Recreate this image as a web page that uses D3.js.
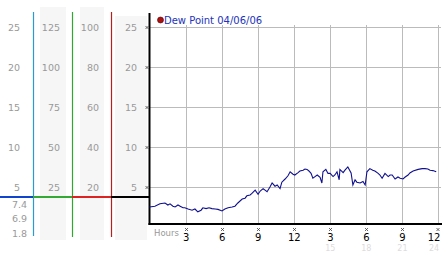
<!DOCTYPE html>
<html>
<head>
<meta charset="utf-8">
<script src="https://cdn.jsdelivr.net/npm/d3@7"></script>
<style>
  body { margin: 0; background: #fff; }
  svg { display: block; }
  text { font-family: "DejaVu Sans", Verdana, sans-serif; }
</style>
</head>
<body>
<div id="chart"></div>
<script>
var width = 442, height = 253;

// data
var hours = [0.0, 0.45, 0.87, 1.29, 1.53, 1.71, 1.95, 2.13, 2.37, 2.55,
  2.79, 2.94, 3.21, 3.54, 3.78, 4.02, 4.29, 4.44, 4.71, 4.95,
  5.19, 5.46, 5.70, 6.03, 6.27, 6.54, 6.87, 7.11, 7.35, 7.71,
  7.95, 8.10, 8.37, 8.52, 8.79, 9.03, 9.21, 9.45, 9.78, 10.02,
  10.20, 10.44, 10.62, 10.86, 11.01, 11.28, 11.52, 11.70, 11.94, 12.09,
  12.36, 12.51, 12.78, 12.93, 13.11, 13.26, 13.44, 13.59, 13.77, 13.95,
  14.19, 14.34, 14.43, 14.67, 14.85, 15.03, 15.27, 15.42, 15.60, 15.78,
  15.84, 16.11, 16.26, 16.50, 16.77, 16.92, 17.10, 17.25, 17.52, 17.76,
  17.94, 18.09, 18.33, 18.57, 18.75, 19.02, 19.17, 19.35, 19.59, 19.86,
  20.01, 20.19, 20.43, 20.67, 20.85, 21.09, 21.27, 21.51, 21.66, 21.93,
  22.35, 22.68, 22.92, 23.16, 23.34, 23.58, 23.85];
var dewPoint = [2.5, 2.6, 2.9, 3.0, 2.75, 2.9, 2.6, 2.5, 2.75, 2.6,
  2.4, 2.4, 2.25, 2.1, 2.25, 1.9, 2.1, 2.4, 2.3, 2.4,
  2.3, 2.25, 2.2, 2.0, 2.25, 2.4, 2.5, 2.6, 3.0, 3.5,
  3.6, 3.9, 4.0, 4.2, 4.6, 4.1, 4.5, 4.8, 4.4, 5.0,
  5.5, 5.1, 5.25, 4.8, 5.6, 6.0, 6.4, 6.9, 6.6, 6.5,
  6.8, 7.0, 7.1, 7.25, 7.2, 7.0, 6.7, 6.1, 6.3, 6.5,
  6.2, 5.5, 6.9, 7.2, 6.7, 6.7, 6.3, 6.5, 6.9, 5.9,
  7.2, 6.8, 7.1, 7.5, 6.75, 5.25, 5.9, 5.6, 5.5, 5.7,
  5.25, 6.9, 7.3, 7.1, 7.0, 6.7, 6.5, 6.1, 6.7, 6.3,
  6.5, 6.5, 6.0, 6.25, 6.1, 6.0, 6.25, 6.5, 6.75, 7.0,
  7.2, 7.3, 7.3, 7.25, 7.1, 7.05, 6.9];

var gridValues = [25, 20, 15, 10, 5];
var col1Labels = ["25", "20", "15", "10", "5"];
var col2Labels = ["125", "100", "75", "50", "25"];
var col3Labels = ["100", "80", "60", "40", "20"];
var col4Labels = ["25", "20", "15", "10", "5"];
var lowLabels = ["7.4", "6.9", "1.8"];
var markerValue = 3.75;

var tickHours = [3, 6, 9, 12, 15, 18, 21, 24];
var tickLabels = ["3", "6", "9", "12", "3", "6", "9", "12"];
var faintHours = [15, 18, 21, 24];
var faintLabels = ["15", "18", "21", "24"];
var title = "Dew Point 04/06/06";

var plotLeft = 149.5, plotRight = 438, plotBottom = 224;

var x = d3.scaleLinear().domain([0, 24]).range([plotLeft, plotRight]);
var y = d3.scaleLinear().domain([5, 25]).range([187, 27]);

var svg = d3.select("#chart").append("svg")
    .attr("width", width)
    .attr("height", height);

// shaded column backgrounds
var shades = [{x: 40, w: 26, top: 7}, {x: 80, w: 24, top: 7}, {x: 115, w: 32, top: 16}];
svg.selectAll(".shade")
    .data(shades)
  .enter().append("rect")
    .attr("x", d => d.x)
    .attr("y", d => d.top)
    .attr("width", d => d.w)
    .attr("height", d => 240 - d.top)
    .attr("fill", "#f6f6f6");

// column labels
var cols = [
  {labels: col1Labels, right: 20},
  {labels: col2Labels, right: 60},
  {labels: col3Labels, right: 99},
  {labels: col4Labels, right: 137}
];
cols.forEach(function(c) {
  svg.selectAll(null)
      .data(c.labels)
    .enter().append("text")
      .attr("x", c.right)
      .attr("y", (d, i) => y(gridValues[i]) + 3.5)
      .attr("text-anchor", "end")
      .attr("font-size", 9.5)
      .attr("fill", "#999")
      .text(d => d);
});

svg.selectAll(".low")
    .data(lowLabels)
  .enter().append("text")
    .attr("x", 27)
    .attr("y", (d, i) => 208 + i * 14.3)
    .attr("text-anchor", "end")
    .attr("font-size", 9.5)
    .attr("fill", "#999")
    .text(d => d);

// vertical colored separators
var seps = [{x: 33, c: "#2a9ad0", b: 236}, {x: 72, c: "#2fa82f", b: 237}, {x: 111, c: "#b42020", b: 237}];
svg.selectAll(".sep")
    .data(seps)
  .enter().append("line")
    .attr("x1", d => d.x + 0.5).attr("x2", d => d.x + 0.5)
    .attr("y1", 12).attr("y2", d => d.b)
    .attr("stroke", d => d.c)
    .attr("stroke-width", 1.2);

// horizontal colored marker line
var segs = [{a: 0, b: 33, c: "#1144cc"}, {a: 33, b: 72, c: "#33aa33"}, {a: 72, b: 111, c: "#dd2222"}, {a: 111, b: 149, c: "#000"}];
svg.selectAll(".seg")
    .data(segs)
  .enter().append("line")
    .attr("x1", d => d.a).attr("x2", d => d.b)
    .attr("y1", y(markerValue)).attr("y2", y(markerValue))
    .attr("stroke", d => d.c)
    .attr("stroke-width", 2);

// grid
svg.selectAll(".hgrid")
    .data(gridValues)
  .enter().append("line")
    .attr("x1", plotLeft).attr("x2", 441)
    .attr("y1", d => Math.round(y(d)) + 0.5).attr("y2", d => Math.round(y(d)) + 0.5)
    .attr("stroke", "#bbb");

svg.selectAll(".vgrid")
    .data(tickHours)
  .enter().append("line")
    .attr("x1", d => Math.round(x(d)) + 0.5).attr("x2", d => Math.round(x(d)) + 0.5)
    .attr("y1", 25).attr("y2", plotBottom)
    .attr("stroke", "#bbb");

// axes
svg.append("line")
    .attr("x1", 149.5).attr("x2", 149.5)
    .attr("y1", 13).attr("y2", plotBottom + 1)
    .attr("stroke", "#000").attr("stroke-width", 2);
svg.append("line")
    .attr("x1", 148.5).attr("x2", 442)
    .attr("y1", plotBottom).attr("y2", plotBottom)
    .attr("stroke", "#000").attr("stroke-width", 2);

// little cross tick marks
var cross = "M-1.5,-1.5L1.5,1.5M1.5,-1.5L-1.5,1.5";
svg.selectAll(".ytick")
    .data(gridValues)
  .enter().append("path")
    .attr("d", cross)
    .attr("transform", d => "translate(147," + (Math.round(y(d)) + 0.5) + ")")
    .attr("stroke", "#444").attr("stroke-width", 0.8).attr("fill", "none");
svg.selectAll(".xtick")
    .data(tickHours)
  .enter().append("path")
    .attr("d", cross)
    .attr("transform", d => "translate(" + Math.min(Math.round(x(d)) + 0.5, 438) + ",229.5)")
    .attr("stroke", "#444").attr("stroke-width", 0.8).attr("fill", "none");

// x labels
svg.append("text")
    .attr("x", 154).attr("y", 235.5)
    .attr("font-size", 8.5)
    .attr("fill", "#999")
    .text("Hours");

function labelX(h) { return Math.min(x(h) + 0.5, 434); }

svg.selectAll(".xlab")
    .data(tickHours)
  .enter().append("text")
    .attr("x", d => labelX(d))
    .attr("y", 240.5)
    .attr("text-anchor", "middle")
    .attr("font-size", 10)
    .attr("fill", "#000")
    .text((d, i) => tickLabels[i]);

svg.selectAll(".flab")
    .data(faintHours)
  .enter().append("text")
    .attr("x", d => labelX(d))
    .attr("y", 250.5)
    .attr("text-anchor", "middle")
    .attr("font-size", 8)
    .attr("fill", "#dcdcdc")
    .text((d, i) => faintLabels[i]);

// data line
var line = d3.line()
    .x(d => x(d[0]))
    .y(d => y(d[1]));
svg.append("path")
    .datum(hours.map((h, i) => [h, dewPoint[i]]))
    .attr("d", line)
    .attr("fill", "none")
    .attr("stroke", "#10108f")
    .attr("stroke-width", 1.1);

// legend
svg.append("circle")
    .attr("cx", 160.5).attr("cy", 20)
    .attr("r", 3)
    .attr("fill", "#aa1111")
    .attr("stroke", "#550000").attr("stroke-width", 0.6);
svg.append("text")
    .attr("x", 164).attr("y", 23.5)
    .attr("font-size", 10)
    .attr("fill", "#2233bb")
    .text(title);
</script>
</body>
</html>
